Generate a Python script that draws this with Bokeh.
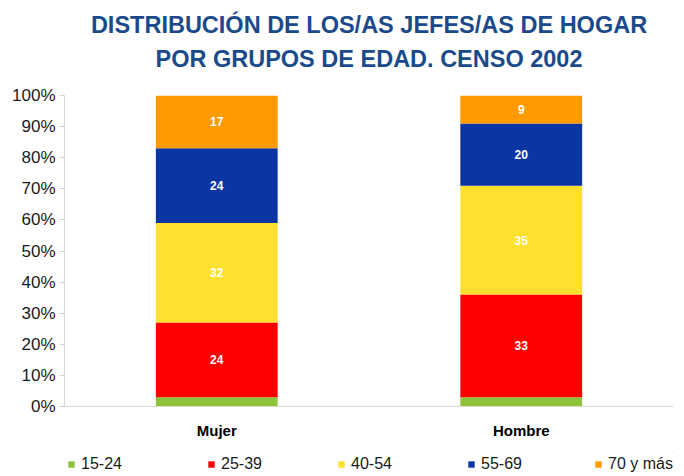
from bokeh.plotting import figure
from bokeh.layouts import column
from bokeh.models import (ColumnDataSource, FactorRange, Range1d, FixedTicker,
                          Legend, LegendItem, Title, LabelSet)
from bokeh.core.properties import value
from bokeh.embed import file_html
from bokeh.resources import INLINE

# ---- data ----
categories = ["Mujer", "Hombre"]
groups = ["15-24", "25-39", "40-54", "55-69", "70 y más"]
v_15_24 = [3, 3]
v_25_39 = [24, 33]
v_40_54 = [32, 35]
v_55_69 = [24, 20]
v_70_mas = [17, 9]
colors = ["#8DC23A", "#FF0000", "#FFE02E", "#0A35A2", "#FF9A00"]
y_ticks = list(range(0, 101, 10))
y_tick_labels = {t: f"{t}%" for t in y_ticks}
title_line1 = "DISTRIBUCIÓN DE LOS/AS JEFES/AS DE HOGAR"
title_line2 = "POR GRUPOS DE EDAD. CENSO 2002"

series = [v_15_24, v_25_39, v_40_54, v_55_69, v_70_mas]
keys = ["g0", "g1", "g2", "g3", "g4"]
data = {"cat": categories}
for k, s in zip(keys, series):
    data[k] = s
source = ColumnDataSource(data)

FONT = "Liberation Sans"

p = figure(x_range=FactorRange(*categories, range_padding=0),
           y_range=Range1d(0, 100),
           width=684, height=451, output_backend="svg", toolbar_location=None,
           min_border_left=64, min_border_right=11, min_border_top=95,
           min_border_bottom=45)
p.outline_line_color = None
p.border_fill_color = "white"
p.background_fill_color = "white"
p.xgrid.grid_line_color = None
p.ygrid.grid_line_color = None

renderers = p.vbar_stack(keys, x="cat", width=0.4, source=source,
                         color=colors, line_color=None)

# value labels (centred in each segment, skip the thin first segment)
lab_x, lab_y, lab_t = [], [], []
for ci, c in enumerate(categories):
    base = 0
    for si, s in enumerate(series):
        v = s[ci]
        if si > 0:
            lab_x.append(c)
            lab_y.append(base + v / 2)
            lab_t.append(str(v))
        base += v
lsrc = ColumnDataSource(dict(x=lab_x, y=lab_y, t=lab_t))
p.add_layout(LabelSet(x="x", y="y", text="t", source=lsrc, text_color="white",
                      text_font=value(FONT), text_font_style="bold",
                      text_font_size="12px", text_align="center",
                      text_baseline="middle"))

# axes
p.yaxis.ticker = FixedTicker(ticks=y_ticks)
p.yaxis.major_label_overrides = y_tick_labels
p.yaxis.major_label_text_font = FONT
p.yaxis.major_label_text_font_size = "17px"
p.yaxis.major_label_text_color = "#1a1a1a"
p.yaxis.axis_line_color = "#d9d9d9"
p.yaxis.major_tick_line_color = "#d0d0d0"
p.yaxis.major_tick_out = 5
p.yaxis.major_tick_in = 0
p.yaxis.minor_tick_line_color = None
p.yaxis.major_label_standoff = 4

p.xaxis.axis_line_color = "#d9d9d9"
p.xaxis.major_tick_line_color = None
p.xaxis.minor_tick_line_color = None
p.xaxis.major_label_text_font = FONT
p.xaxis.major_label_text_font_style = "bold"
p.xaxis.major_label_text_font_size = "15px"
p.xaxis.major_label_text_color = "black"
p.xaxis.major_label_standoff = 9

# titles (added from the plot outward)
p.add_layout(Title(text=" ", text_font_size="10px", standoff=11), "above")
p.add_layout(Title(text=title_line2, align="center", text_font=FONT,
                   text_font_size="23.5px", text_font_style="bold",
                   text_color="#1B4A8C", standoff=0), "above")
p.add_layout(Title(text=title_line1, align="center", text_font=FONT,
                   text_font_size="23.5px", text_font_style="bold",
                   text_color="#1B4A8C", standoff=11), "above")

# legend strip: its own small figure below the chart (frame aligned with chart)
lp = figure(width=684, height=25, output_backend="svg", toolbar_location=None,
            x_range=Range1d(0, 1), y_range=Range1d(0, 1),
            min_border=0, x_axis_type=None, y_axis_type=None)
lp.outline_line_color = None
lp.xgrid.grid_line_color = None
lp.ygrid.grid_line_color = None
leg_x = [3, 143, 273, 403, 530]
for g, c, lx in zip(groups, colors, leg_x):
    # off-range dummy bar: only its legend swatch is visible
    r = lp.vbar(x=[5], bottom=[5], top=[6], width=0.1, color=c, line_color=None)
    leg = Legend(items=[LegendItem(label=g, renderers=[r])],
                 location=(lx, 3), orientation="horizontal",
                 glyph_width=8, glyph_height=8, label_standoff=6,
                 padding=0, margin=0, spacing=0,
                 border_line_color=None, background_fill_alpha=0,
                 label_text_font=FONT, label_text_font_size="16px",
                 label_text_color="#1a1a1a")
    lp.add_layout(leg, "center")

layout = column(p, lp, spacing=0)
open("out.html", "w").write(file_html(layout, INLINE))
